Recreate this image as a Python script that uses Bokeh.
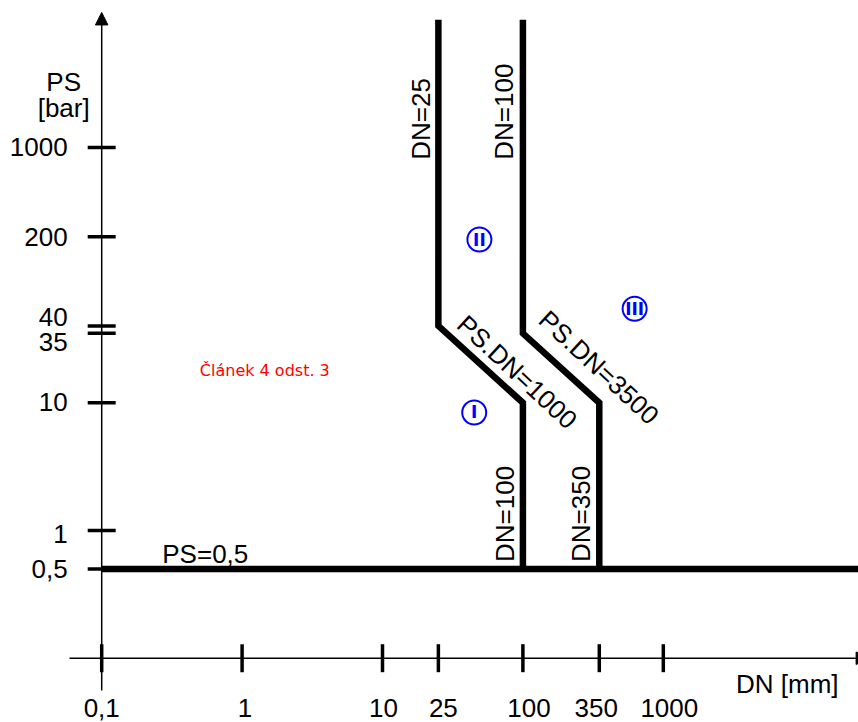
import math
from bokeh.plotting import figure
from bokeh.models import Range1d, Arrow, NormalHead, ColumnDataSource
from bokeh.core.properties import value
from bokeh.embed import file_html
from bokeh.resources import INLINE

# ---------------- data ----------------
DN_TICKS = [0.1, 1, 10, 25, 100, 350, 1000]
DN_TICK_LABELS = ["0,1", "1", "10", "25", "100", "350", "1000"]
PS_TICKS = [1000, 200, 40, 35, 10, 1, 0.5]
PS_TICK_LABELS = ["1000", "200", "40", "35", "10", "1", "0,5"]

# boundary lines (DN [mm], PS [bar])
LIMIT_DN = [0.1, 100000]
LIMIT_PS = [0.5, 0.5]
BOUNDARY_1_DN = [25, 25, 100, 100]
BOUNDARY_1_PS = [10000, 40, 10, 0.5]
BOUNDARY_2_DN = [100, 100, 350, 350]
BOUNDARY_2_PS = [10000, 35, 10, 0.5]

# category markers
CATEGORIES = ["I", "II", "III"]
CATEGORY_DN = [45, 49, 625]
CATEGORY_PS = [8.4, 190, 54.5]

# axis origin and extents
AXIS_DN0 = 0.1
AXIS_PS0 = 0.1
AXIS_DN_START = 0.059
AXIS_DN_TIP = 29000
AXIS_PS_START = 0.0558
AXIS_PS_TIP = 11400

FONT = value("Liberation Sans")

# ---------------- figure ----------------
W, H = 858, 722
p = figure(width=W, height=H, output_backend="svg", toolbar_location=None,
           x_axis_type="log", y_axis_type="log",
           x_axis_location=None, y_axis_location=None,
           x_range=Range1d(10 ** -1.7208, 10 ** 4.3903),
           y_range=Range1d(10 ** -1.5035, 10 ** 4.1504),
           min_border=0, outline_line_color=None)
p.xgrid.visible = False
p.ygrid.visible = False
p.background_fill_color = "white"

# axes with arrows
p.add_layout(Arrow(x_start=AXIS_DN0, y_start=AXIS_PS_START, x_end=AXIS_DN0, y_end=AXIS_PS_TIP,
                   line_width=1.5, line_color="black",
                   end=NormalHead(size=12.5, fill_color="black", line_color="black", line_width=1)))
p.add_layout(Arrow(x_start=AXIS_DN_START, y_start=AXIS_PS0, x_end=AXIS_DN_TIP, y_end=AXIS_PS0,
                   line_width=1.5, line_color="black",
                   end=NormalHead(size=12.5, fill_color="black", line_color="black", line_width=1)))

# tick marks
p.scatter(x=[AXIS_DN0] * len(PS_TICKS), y=PS_TICKS, marker="dash", size=28,
          line_width=3.5, line_color="black")
p.scatter(x=DN_TICKS, y=[AXIS_PS0] * len(DN_TICKS), marker="dash", size=28,
          angle=math.pi / 2, line_width=3.5, line_color="black")

# tick labels
ysrc = ColumnDataSource(dict(x=[AXIS_DN0] * len(PS_TICKS), y=PS_TICKS, text=PS_TICK_LABELS,
                             yo=[0, 0, -9, 9, -1, 3, 0]))
p.text(x="x", y="y", text="text", source=ysrc, x_offset=-34, y_offset="yo",
       text_align="right", text_baseline="middle", text_font=FONT,
       text_font_size="26px", text_color="black")
xsrc = ColumnDataSource(dict(x=DN_TICKS, y=[AXIS_PS0] * len(DN_TICKS), text=DN_TICK_LABELS,
                             xo=[0, 3, 1, 5, 6, -3, 6]))
p.text(x="x", y="y", text="text", source=xsrc, x_offset="xo", y_offset=50,
       text_align="center", text_baseline="middle", text_font=FONT,
       text_font_size="26px", text_color="black")

# axis titles
p.text(x=[AXIS_DN0, AXIS_DN0], y=[3280, 2017], text=["PS", "[bar]"], x_offset=-38,
       text_align="center", text_baseline="alphabetic", text_font=FONT,
       text_font_size="26px", text_color="black")
p.text(x=[17700], y=[AXIS_PS0], text=["DN [mm]"], y_offset=26,
       text_align="right", text_baseline="middle", text_font=FONT,
       text_font_size="26px", text_color="black")

# boundary lines
p.line(LIMIT_DN, LIMIT_PS, line_width=6.5, line_color="black", line_cap="butt")
p.line(BOUNDARY_1_DN, BOUNDARY_1_PS, line_width=6.5, line_color="black",
       line_join="miter", line_cap="butt")
p.line(BOUNDARY_2_DN, BOUNDARY_2_PS, line_width=6.5, line_color="black",
       line_join="miter", line_cap="butt")

# boundary labels
p.text(x=[0.27], y=[LIMIT_PS[0]], text=["PS=0,5"], y_offset=-15,
       text_align="left", text_baseline="alphabetic", text_font=FONT,
       text_font_size="26px", text_color="black")
vsrc = ColumnDataSource(dict(x=[25, 100, 100, 350], y=[800, 800, 0.5, 0.5],
                             text=["DN=25", "DN=100", "DN=100", "DN=350"],
                             xo=[-17, -19, -18, -18], yo=[0, 0, -7, -7]))
p.text(x="x", y="y", text="text", source=vsrc, x_offset="xo", y_offset="yo",
       angle=math.pi / 2, text_align="left", text_baseline="alphabetic",
       text_font=FONT, text_font_size="26px", text_color="black")
p.text(x=[91, 348], y=[17.4, 18.9], text=["PS.DN=1000", "PS.DN=3500"],
       angle=-0.75, text_align="center", text_baseline="middle",
       text_font=FONT, text_font_size="26px", text_color="black")

# red note
p.text(x=[0.5], y=[18], text=["Článek 4 odst. 3"], text_align="left",
       text_baseline="middle", text_font=value("DejaVu Sans"),
       text_font_size="16px", text_color="#ff0000")

# category circles
p.scatter(x=CATEGORY_DN, y=CATEGORY_PS, marker="circle", size=24,
          fill_color=None, line_color="#0000ff", line_width=2)
p.text(x=CATEGORY_DN, y=CATEGORY_PS, text=CATEGORIES, text_align="center",
       text_baseline="middle", text_font=value("DejaVu Sans"),
       text_font_style="bold", text_font_size="17px", text_color="#0000ff")

open("out.html", "w").write(file_html(p, INLINE))
